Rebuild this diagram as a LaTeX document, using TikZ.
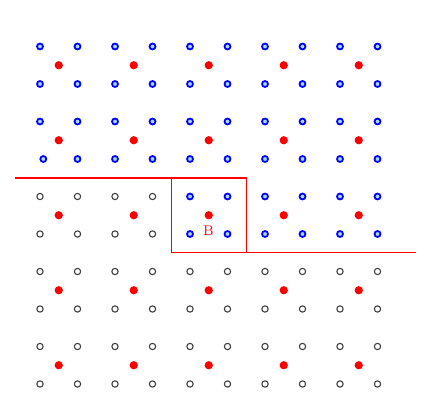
\documentclass[tikz,border=0pt]{standalone}
\usetikzlibrary{positioning}
\definecolor{ringfill}{RGB}{170,215,255}
\definecolor{ringgray}{RGB}{60,60,60}

\begin{document}
\begin{tikzpicture}[x=0.02cm, y=-0.02cm,
  site/.style={circle,inner sep=0pt,outer sep=0pt},
  bluering/.style={site,draw=blue,fill=ringfill,line width=1pt,minimum size=3.4pt},
  grayring/.style={site,draw=ringgray,fill=white,line width=0.6pt,minimum size=3.6pt},
  reddot/.style={site,fill=red,minimum size=4.7pt},
  cellline/.style={draw=red,line width=0.85pt}]
\useasboundingbox (0,0) rectangle (424,420);
% lattice: rows of cells, ring style per row
\foreach \r/\cs/\sty in {0/{0,1,2,3,4}/bluering, 1/{0,1,2,3,4}/bluering,
    2/{2,3,4}/bluering, 2/{0,1}/grayring, 3/{0,1,2,3,4}/grayring, 4/{0,1,2,3,4}/grayring}
  \foreach \c in \cs {
    \pgfmathsetmacro\cx{40+75*\c}
    \pgfmathsetmacro\cy{46.5+75*\r}
    \pgfmathsetmacro\dx{(\r==1 && \c==0) ? 3.3 : 0}
    \node[\sty] (a-\r-\c) at (\cx,\cy) {};
    \node[\sty] (b-\r-\c) at (\cx+37.5,\cy) {};
    \node[\sty] (c-\r-\c) at (\cx+\dx,\cy+37.5) {};
    \node[\sty] (d-\r-\c) at (\cx+37.5,\cy+37.5) {};
    \node[reddot] (m-\r-\c) at (\cx+18.75,\cy+18.75) {};
  }
% boundary and cell B
\coordinate (s) at (15,177.8);
\coordinate (bl) at (171.7,177.8);
\coordinate (br) at (246.7,177.8);
\coordinate (bb) at (246.7,252.7);
\coordinate (e) at (416,252.7);
\draw[cellline] (s) -- (br) -- (bb) -- (e);
\draw[cellline] (bl) |- (bb);
\node[text=red,font=\fontsize{8}{9}\selectfont,inner sep=0pt] (B) at (208.3,230.5) {B};
\end{tikzpicture}
\end{document}
